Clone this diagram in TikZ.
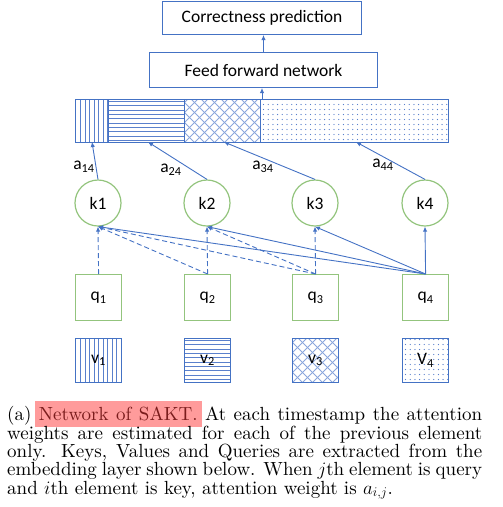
\documentclass[tikz,border=0pt]{standalone}
\usepackage{fix-cm}
\usepackage{fontspec}
\setmainfont{lmroman10-regular.otf}[ItalicFont=lmroman10-italic.otf, BoldFont=lmroman10-bold.otf]
\newfontfamily\calfont{Carlito}
\usetikzlibrary{arrows.meta}
\definecolor{lblue}{HTML}{4472C4}
\definecolor{pblue}{HTML}{5A80CC}
\definecolor{xblue}{HTML}{8AA6DC}
\definecolor{lgreen}{HTML}{93C47D}
\definecolor{hlred}{HTML}{FF9B9B}
\definecolor{txtred}{HTML}{7A1C1C}
\begin{document}
\begin{tikzpicture}[x=1pt,y=-1pt,
  lbl/.style={font=\calfont\fontsize{17.5}{20}\selectfont},
  box/.style={draw=lblue, line width=1pt, inner sep=0pt, anchor=north west, lbl},
  seg/.style={draw=lblue, line width=1pt, inner sep=0pt, anchor=north west, minimum height=43pt},
  vbox/.style={draw=lblue, line width=1pt, inner sep=0pt, anchor=north west, minimum width=46pt, minimum height=44pt, lbl},
  qbox/.style={draw=lgreen, line width=1.2pt, inner sep=0pt, anchor=north west, minimum width=46pt, minimum height=46pt, lbl},
  kcirc/.style={circle, draw=lgreen, line width=1.2pt, inner sep=0pt, minimum size=46pt, lbl},
  arr/.style={draw=lblue, line width=0.9pt, -{Latex[length=5pt,width=4.5pt]}},
  darr/.style={arr, dash pattern=on 5pt off 3pt},
  vlines/.style={path picture={\foreach \i in {1,...,12}{\draw[pblue,line width=0.9pt] ([xshift={\i*4.5pt+0.5pt}]path picture bounding box.south west) -- ([xshift={\i*4.5pt+0.5pt}]path picture bounding box.north west);}}},
  hlines/.style={path picture={\foreach \i in {1,...,11}{\draw[pblue,line width=1.1pt] ([yshift={-\i*4.35pt+2.4pt}]path picture bounding box.north west) -- ([yshift={-\i*4.35pt+2.4pt}]path picture bounding box.north east);}}},
  xhatch/.style={path picture={\foreach \i in {-8,...,16}{\draw[xblue,line width=0.9pt] ([xshift={\i*10pt}]path picture bounding box.south west) -- ++(45:130pt); \draw[xblue,line width=0.9pt] ([xshift={\i*10pt}]path picture bounding box.south west) -- ++(135:130pt);}}},
  dotted/.style={path picture={\foreach \i in {0,...,40}{\foreach \j in {0,...,9}{\fill[pblue] ([xshift={\i*4.7pt+3pt},yshift={\j*5pt+3pt}]path picture bounding box.south west) circle (0.65pt);}}}},
  capt/.style={anchor=base west, inner sep=0pt, font=\fontsize{19}{18.3}\selectfont}
]
\useasboundingbox (0,0) rectangle (503,507);

% top boxes
\node[box, minimum width=199pt, minimum height=33pt] (cp) at (162,1) {Correctness prediction};
\node[box, minimum width=228pt, minimum height=35pt] (ffn) at (149,52) {Feed forward network};

% embedding bar
\node[seg, vlines, minimum width=33pt] (s1) at (75,99) {};
\node[seg, hlines, minimum width=76pt] (s2) at (108,99) {};
\node[seg, xhatch, minimum width=76pt] (s3) at (184,99) {};
\node[seg, dotted, minimum width=188pt] (s4) at (260,99) {};

\coordinate (bt) at (262,99);
\draw[arr] (bt) -- (bt |- ffn.south);
\draw[arr] (ffn.north) -- (ffn.north |- cp.south);

% keys
\node[kcirc] (k1) at (98,203) {k1};
\node[kcirc] (k2) at (207,203) {k2};
\node[kcirc] (k3) at (315,203) {k3};
\node[kcirc] (k4) at (425,203) {k4};

\coordinate (b1) at (92,142);
\coordinate (b2) at (148,142);
\coordinate (b3) at (224,142);
\coordinate (b4) at (356,142);
\draw[arr] (k1.north) -- (b1);
\draw[arr] (k2.north) -- (b2);
\draw[arr] (k3.north) -- (b3);
\draw[arr] (k4.north) -- (b4);

\node[lbl] (a1) at (84,167) {a\textsubscript{14}};
\node[lbl] (a2) at (171,170) {a\textsubscript{24}};
\node[lbl] (a3) at (263,167) {a\textsubscript{34}};
\node[lbl] (a4) at (383,165) {a\textsubscript{44}};

% queries
\node[qbox] (q1) at (75,274) {q\textsubscript{1}};
\node[qbox] (q2) at (184,274) {q\textsubscript{2}};
\node[qbox] (q3) at (292,274) {q\textsubscript{3}};
\node[qbox] (q4) at (402,274) {q\textsubscript{4}};

\draw[darr] (q1.north) -- (k1.south);
\draw[darr] (q2.north) -- (k1.south);
\draw[darr] (q2.north) -- (k2.south);
\draw[darr] (q3.north) -- (k1.south);
\draw[darr] (q3.north) -- (k2.south);
\draw[darr] (q3.north) -- (k3.south);
\draw[arr] (q4.north) -- (k1.south);
\draw[arr] (q4.north) -- (k2.south);
\draw[arr] (q4.north) -- (k3.south);
\draw[arr] (q4.north) -- (k4.south);

% values
\node[vbox, vlines] (v1) at (75,338) {v\textsubscript{1}};
\node[vbox, hlines] (v2) at (184,338) {v\textsubscript{2}};
\node[vbox, xhatch] (v3) at (292,338) {v\textsubscript{3}};
\node[vbox, dotted] (v4) at (402,338) {V\textsubscript{4}};

% caption
\fill[hlred] (35,401) rectangle (202,427);
\node[capt] (c1) at (7,420.7) {\makebox[475pt][s]{(a) \textcolor{txtred}{Network of SAKT.} At each timestamp the attention}};
\node[capt] (c2) at (7,439) {\makebox[475pt][s]{weights are estimated for each of the previous element}};
\node[capt] (c3) at (7,457.3) {\makebox[475pt][s]{only.  Keys, Values and Queries are extracted from the}};
\node[capt] (c4) at (7,475.6) {\makebox[475pt][s]{embedding layer shown below. When $j$th element is query}};
\node[capt] (c5) at (7,494) {and $i$th element is key, attention weight is $a_{i,j}$.};
\end{tikzpicture}
\end{document}
